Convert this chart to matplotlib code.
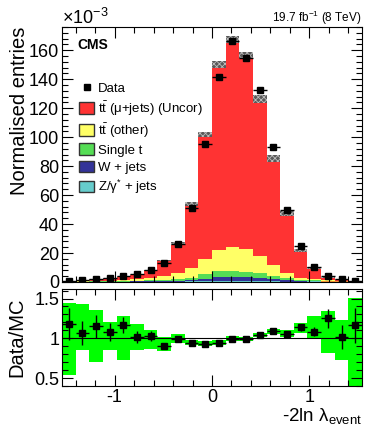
import numpy as np
import matplotlib
matplotlib.use("Agg")
import matplotlib.pyplot as plt
from matplotlib.patches import Patch
from matplotlib.lines import Line2D
from matplotlib.ticker import MultipleLocator, FormatStrFormatter

plt.rcParams['font.family'] = ['Liberation Sans', 'DejaVu Sans']
plt.rcParams['mathtext.fontset'] = 'custom'
plt.rcParams['mathtext.rm'] = 'Liberation Sans'
plt.rcParams['mathtext.it'] = 'Liberation Sans:italic'
plt.rcParams['mathtext.bf'] = 'Liberation Sans:bold'
plt.rcParams['axes.unicode_minus'] = False
plt.rcParams['hatch.color'] = '#bdbdbd'
plt.rcParams['hatch.linewidth'] = 0.6

# bins of -2ln lambda_event
bin_edges = [-1.54, -1.40, -1.26, -1.12, -0.98, -0.84, -0.70, -0.56, -0.42, -0.28, -0.14,
             0.00, 0.14, 0.28, 0.42, 0.56, 0.70, 0.84, 0.98, 1.12, 1.26, 1.40, 1.54]

# stacked MC (x 1e-3), bottom to top
qcd = [0, 0, 0, 0, 0, 0, 0, 0, 0, 0, 0, 0, 0, 0, 0, 0, 0, 0.1, 0.3, 0.5, 0.4, 0.2]
z_jets = [0.05, 0.05, 0.05, 0.08, 0.1, 0.12, 0.15, 0.2, 0.25, 0.35, 0.45,
          0.55, 0.6, 0.55, 0.45, 0.35, 0.25, 0.15, 0.1, 0.05, 0.05, 0.03]
w_jets = [0.05, 0.1, 0.1, 0.12, 0.2, 0.25, 0.3, 0.4, 0.6, 0.9, 1.3,
          2.9, 3.1, 2.6, 2.1, 1.4, 1.0, 0.5, 0.3, 0.15, 0.08, 0.03]
single_t = [0.1, 0.15, 0.2, 0.25, 0.35, 0.45, 0.6, 0.8, 1.1, 1.7, 3.5,
            4.1, 3.9, 3.9, 3.6, 2.6, 1.2, 0.7, 0.4, 0.2, 0.1, 0.05]
tt_other = [0.1, 0.2, 0.3, 0.4, 0.7, 1.0, 1.6, 3.0, 4.4, 6.9, 10.5,
            14.4, 16.5, 15.4, 12.1, 7.2, 4.0, 1.6, 0.9, 0.4, 0.15, 0.05]
tt_mujets = [0.29, 1.0, 1.18, 1.46, 2.25, 3.58, 5.41, 10.4, 20.25, 44.15, 86.15,
             128.05, 143.2, 134.05, 108.05, 73.85, 40.75, 18.85, 7.6, 2.05, 0.98, 0.24]
mc_unc = [0.1, 0.1, 0.15, 0.2, 0.25, 0.3, 0.4, 0.6, 0.9, 1.3, 1.5,
          2.3, 2.3, 2.0, 3.0, 2.3, 1.5, 1.0, 0.6, 0.3, 0.2, 0.1]

data = [0.7, 1.6, 2.1, 2.5, 4.2, 5.5, 8.3, 13.4, 26.3, 51.0, 95.0,
        141.7, 166.6, 154.5, 132.2, 93.0, 49.6, 24.9, 10.4, 4.2, 1.8, 0.7]
data_err = [0.15, 0.2, 0.25, 0.25, 0.35, 0.4, 0.5, 0.6, 0.8, 1.0, 1.4,
            1.7, 1.9, 1.8, 1.7, 1.5, 1.1, 0.8, 0.5, 0.4, 0.25, 0.15]

ratio = [1.18, 1.07, 1.15, 1.08, 1.165, 1.017, 1.03, 0.907, 0.987, 0.945, 0.932,
         0.945, 0.996, 0.987, 1.047, 1.089, 1.05, 1.136, 1.085, 1.254, 1.02, 1.165]
ratio_err = [0.2, 0.15, 0.14, 0.11, 0.1, 0.08, 0.06, 0.04, 0.03, 0.02, 0.015,
             0.012, 0.012, 0.012, 0.015, 0.02, 0.03, 0.04, 0.06, 0.12, 0.15, 0.22]
band_lo = [0.534, 0.852, 0.703, 0.85, 0.733, 0.852, 0.864, 0.84, 0.936, 0.915, 0.907,
           0.92, 0.97, 0.966, 1.017, 1.06, 1.02, 1.072, 0.987, 0.818, 0.725, 0.39]
band_hi = [1.445, 1.436, 1.36, 1.21, 1.275, 1.18, 1.106, 1.02, 1.05, 0.98, 0.966,
           0.98, 1.025, 1.017, 1.072, 1.123, 1.106, 1.19, 1.275, 1.34, 1.225, 1.51]

edges = np.array(bin_edges)
centers = 0.5 * (edges[:-1] + edges[1:])
width = np.diff(edges)

fig = plt.figure(figsize=(3.74, 4.33), dpi=100)
ax = fig.add_axes([62/374, 1 - 282/433, 300/374, 255/433])
axr = fig.add_axes([62/374, 1 - 386/433, 300/374, 97/433])

# stack
stack = [(qcd, '#ff9933'), (z_jets, '#66cccc'), (w_jets, '#333399'),
         (single_t, '#55dd55'), (tt_other, '#ffff66'), (tt_mujets, '#ff3333')]
bottom = np.zeros(len(centers))
for vals, col in stack:
    ax.bar(edges[:-1], vals, width=width, bottom=bottom, align='edge',
           color=col, linewidth=0)
    bottom = bottom + np.array(vals)
total = bottom

# MC uncertainty
unc = np.array(mc_unc)
ax.bar(edges[:-1], 2 * unc, width=width, bottom=total - unc, align='edge',
       facecolor='#5a5a5a', hatch='xxxxxx', linewidth=0)

ax.errorbar(centers, data, xerr=width / 2, yerr=data_err, fmt='s', color='black',
            ms=4.3, elinewidth=1, capsize=0)

ax.set_xlim(-1.54, 1.54)
ax.set_ylim(0, 176)
ax.xaxis.set_major_locator(MultipleLocator(1))
ax.xaxis.set_minor_locator(MultipleLocator(0.2))
ax.yaxis.set_major_locator(MultipleLocator(20))
ax.yaxis.set_minor_locator(MultipleLocator(4))
ax.tick_params(which='both', direction='in', top=True, right=True, labelsize=13, pad=2)
ax.tick_params(which='major', length=8, width=0.8)
ax.tick_params(which='minor', length=4, width=0.8)
ax.tick_params(axis='x', labelbottom=False)

fig.text(62/374, 1 - 24/433, r'$\times$10$^{-3}$', fontsize=13, ha='left', va='baseline')
fig.text(362/374, 1 - 22/433, r'19.7 fb$^{-1}$ (8 TeV)', fontsize=8.5, ha='right', va='baseline')
fig.text(77/374, 1 - 45/433, 'CMS', fontsize=10, fontweight='bold', ha='left', va='center')
fig.text(20/374, 1 - 27/433, 'Normalised entries', fontsize=14.5, rotation=90,
         ha='center', va='top')

handles = [
    Line2D([], [], marker='s', color='black', ls='none', ms=4),
    Patch(facecolor='#ff3333', edgecolor='#333333', linewidth=1),
    Patch(facecolor='#ffff66', edgecolor='#333333', linewidth=1),
    Patch(facecolor='#55dd55', edgecolor='#333333', linewidth=1),
    Patch(facecolor='#333399', edgecolor='#333333', linewidth=1),
    Patch(facecolor='#66cccc', edgecolor='#333333', linewidth=1),
]
labels = ['Data', r'$\mathrm{t\bar{t}}$ (μ+jets) (Uncor)', r'$\mathrm{t\bar{t}}$ (other)',
          'Single t', 'W + jets', r'Z/γ$^{*}$ + jets']
ax.legend(handles, labels, loc='upper left', bbox_to_anchor=(79/374, 1 - 82/433),
          bbox_transform=fig.transFigure, frameon=False, fontsize=9.5,
          handlelength=1.14, handleheight=1.0, handletextpad=0.3,
          labelspacing=0.28, borderpad=0, borderaxespad=0)

# ratio panel
axr.bar(edges[:-1], np.array(band_hi) - np.array(band_lo), width=width, bottom=band_lo,
        align='edge', color='#00ff00', linewidth=0)
axr.axhline(1, color='black', lw=0.8)
axr.errorbar(centers, ratio, xerr=width / 2, yerr=ratio_err, fmt='s', color='black',
             ms=4.3, elinewidth=1, capsize=0)
axr.set_xlim(-1.54, 1.54)
axr.set_ylim(0.4, 1.62)
axr.xaxis.set_major_locator(MultipleLocator(1))
axr.xaxis.set_minor_locator(MultipleLocator(0.2))
axr.yaxis.set_major_locator(MultipleLocator(0.5))
axr.yaxis.set_minor_locator(MultipleLocator(0.1))
axr.yaxis.set_major_formatter(FormatStrFormatter('%g'))
axr.tick_params(which='both', direction='in', top=True, right=True, labelsize=13, pad=2)
axr.tick_params(axis='x', pad=2)
axr.tick_params(which='major', length=8, width=0.8)
axr.tick_params(which='minor', length=4, width=0.8)

fig.text(17/374, 1 - 337.5/433, 'Data/MC', fontsize=14.5, rotation=90,
         ha='center', va='center')
fig.text(362/374, 1 - 421/433, r'-2ln λ$_{\mathrm{event}}$', fontsize=13.5,
         ha='right', va='baseline')

fig.savefig('out.png', dpi=100)
